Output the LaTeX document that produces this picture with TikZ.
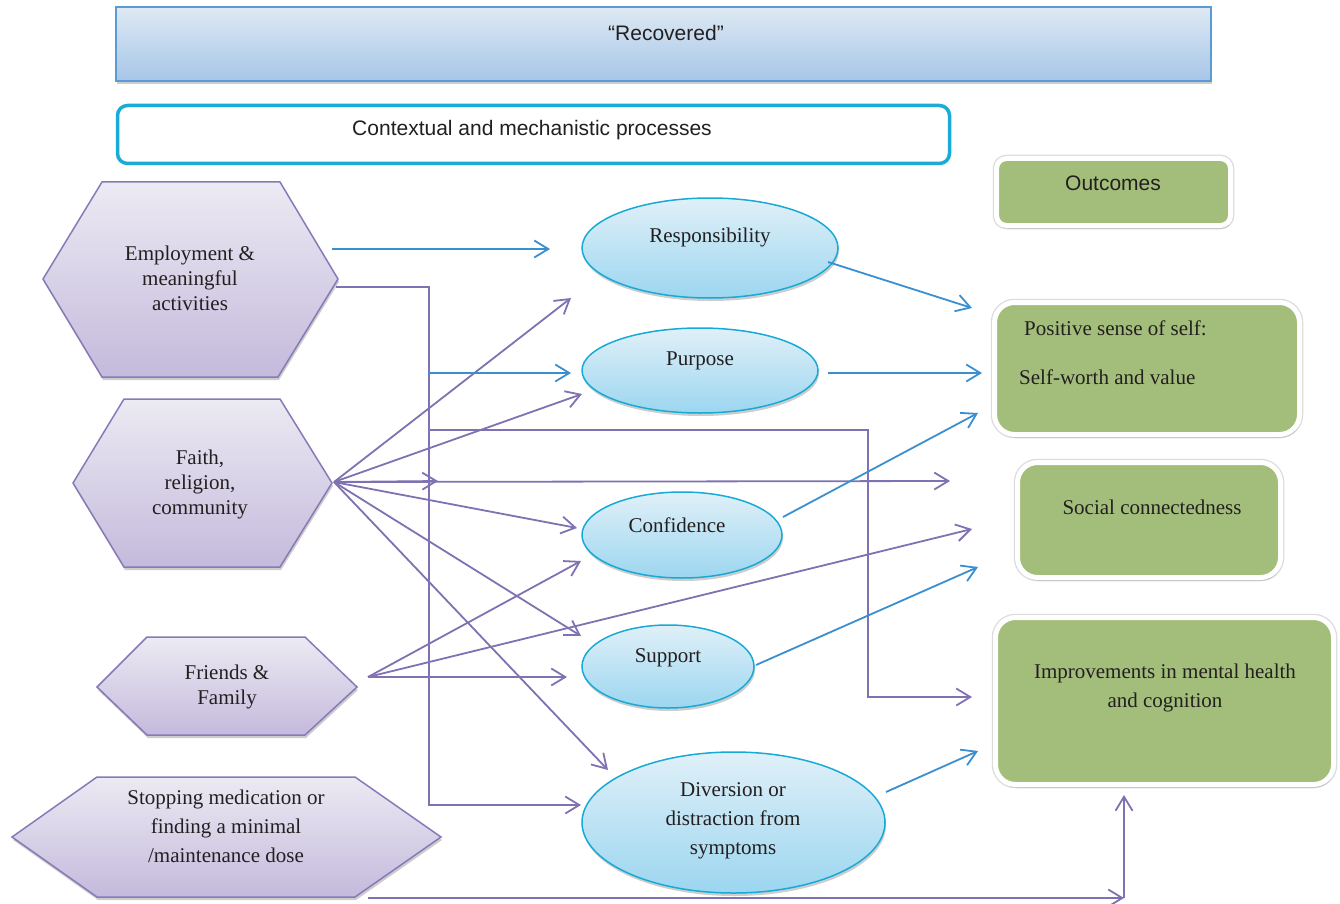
\documentclass[tikz,border=0pt]{standalone}
\usepackage{fontspec}
\setmainfont{Liberation Serif}
\setsansfont{Liberation Sans}
\usetikzlibrary{arrows.meta,shapes.geometric,shadows}
\definecolor{pline}{RGB}{128,114,178}
\definecolor{bline}{RGB}{58,143,208}
\definecolor{hextop}{RGB}{236,234,243}
\definecolor{hexbot}{RGB}{196,186,220}
\definecolor{hexborder}{RGB}{136,122,184}
\definecolor{elltop}{RGB}{224,240,248}
\definecolor{ellbot}{RGB}{156,214,240}
\definecolor{ellborder}{RGB}{24,170,214}
\definecolor{grn}{RGB}{163,190,123}
\definecolor{rectop}{RGB}{222,233,244}
\definecolor{recbot}{RGB}{166,198,231}
\definecolor{recborder}{RGB}{91,155,213}
\definecolor{ctxborder}{RGB}{26,172,214}
\definecolor{txt}{RGB}{35,31,32}
\begin{document}
\begin{tikzpicture}[x=1pt,y=-1pt,
  font=\fontsize{21}{25}\selectfont, text=txt,
  myshadow/.style={drop shadow={opacity=0.28, shadow xshift=1pt, shadow yshift=-3pt, fill=black!70}},
  hexa/.style={draw=hexborder, line width=1.5pt, top color=hextop, bottom color=hexbot, myshadow},
  ell/.style={ellipse, draw=ellborder, line width=1.5pt, top color=elltop, bottom color=ellbot, inner sep=0pt, myshadow},
  gbox/.style={rectangle, rounded corners=20pt, draw=white, line width=5pt, fill=grn, inner sep=0pt,
     preaction={draw=black!14, line width=7.5pt}, myshadow},
  lbl/.style={align=center, inner sep=0pt},
  lblw/.style={align=center, inner sep=0pt, font=\fontsize{21}{29}\selectfont},
  slbl/.style={align=center, inner sep=0pt, font=\sffamily\fontsize{21}{25}\selectfont},
  parrow/.style={draw=pline, line width=1.8pt, -{Straight Barb[length=14pt,width=17pt]}},
  barrow/.style={draw=bline, line width=1.8pt, -{Straight Barb[length=14pt,width=17pt]}}]
\useasboundingbox (0,0) rectangle (1340,904);
\fill[white] (0,0) rectangle (1340,904);

% top banners
\node[rectangle, draw=recborder, line width=1.5pt, top color=rectop, bottom color=recbot,
      minimum width=1095, minimum height=74, inner sep=0pt, myshadow] (recbox) at (663.5,44) {};
\node[slbl] (rec) at (666,33) {“Recovered”};
\node[rectangle, rounded corners=10pt, draw=ctxborder, line width=3.5pt, fill=white,
      minimum width=832, minimum height=58, inner sep=0pt] (ctxbox) at (533.5,134.5) {};
\node[slbl] (ctx) at (532,130) {Contextual and mechanistic processes};

% outcome boxes
\node[gbox, rounded corners=10pt, minimum width=234, minimum height=67] (outbox) at (1113.5,192) {};
\node[slbl] (out) at (1113,183) {Outcomes};
\node[gbox, minimum width=305, minimum height=132] (posbox) at (1147,368.5) {};
\node[lbl, anchor=west] (pos1) at (1024,328) {Positive sense of self:};
\node[lbl, anchor=west] (pos2) at (1019,377) {Self-worth and value};
\node[gbox, minimum width=263, minimum height=115] (socbox) at (1149,520) {};
\node[lbl] (soc) at (1152,507) {Social connectedness};
\node[gbox, minimum width=338, minimum height=167] (impbox) at (1164.5,701) {};
\node[lblw] (imp) at (1165,688) {Improvements in mental health\\and cognition};

% hexagons
\path[hexa] (43,279) -- (102,182) -- (280,182) -- (338,279) -- (278,377) -- (102,377) -- cycle;
\node[lbl] (emp) at (190,278) {Employment \&\\meaningful\\activities};
\path[hexa] (73,483) -- (124,399) -- (280,399) -- (332,483) -- (280,567) -- (124,567) -- cycle;
\node[lbl] (faith) at (200,484) {Faith,\\religion,\\community};
\path[hexa] (97,687) -- (147,637) -- (305,637) -- (357,687) -- (305,735) -- (147,735) -- cycle;
\node[lbl] (fri) at (227,687) {Friends \&\\Family};
\path[hexa] (12,837) -- (97,777) -- (355,777) -- (441,837) -- (355,897) -- (97,897) -- cycle;
\node[lblw] (stop) at (226,826) {Stopping medication or\\finding a minimal\\/maintenance dose};

% ellipses
\node[ell, minimum width=256, minimum height=100] (respell) at (710,248) {};
\node[lbl] (resp) at (710,237) {Responsibility};
\node[ell, minimum width=236, minimum height=85] (purpell) at (700,370.5) {};
\node[lbl] (purp) at (700,361) {Purpose};
\node[ell, minimum width=200, minimum height=86] (confell) at (682,535) {};
\node[lbl] (conf) at (677,525) {Confidence};
\node[ell, minimum width=172, minimum height=83] (suppell) at (668,666.5) {};
\node[lbl] (supp) at (668,658) {Support};
\node[ell, minimum width=303, minimum height=141] (divell) at (733.5,822.5) {};
\node[lblw] (div) at (733,821) {Diversion or\\distraction from\\symptoms};

% connector end points
\coordinate (empA) at (332,249);
\coordinate (empB) at (336,287);
\coordinate (faR) at (334,482);
\coordinate (frR) at (368,677);
\coordinate (stR) at (368,898);
\coordinate (respin) at (550,249);
\coordinate (respin2) at (571,298);
\coordinate (purpin) at (571,373);
\coordinate (purpin2) at (582,394);
\coordinate (confin) at (577,528);
\coordinate (confin2) at (581,561);
\coordinate (suppin) at (581,636);
\coordinate (suppin2) at (567,677);
\coordinate (divin) at (608,770);
\coordinate (divin2) at (581,805);
\coordinate (respout) at (828,262);
\coordinate (purpout) at (828,373);
\coordinate (confout) at (783,517);
\coordinate (suppout) at (756,665);
\coordinate (divout) at (886,792);
\coordinate (posin1) at (972,308);
\coordinate (posin2) at (982,373);
\coordinate (posin3) at (978,413);
\coordinate (socin1) at (950,481);
\coordinate (socin2) at (972,529);
\coordinate (socin3) at (978,567);
\coordinate (impin1) at (972,697);
\coordinate (impin2) at (978,751);
\coordinate (impin3) at (1124,795);
\coordinate (corner) at (1124,898);
\coordinate (midtip) at (438,481);
\coordinate (bstart) at (428,373);
\coordinate (pstart) at (428,430);

% purple connectors
\draw[parrow] (empB) -- (429,287) |- (divin2);
\draw[parrow] (pstart) -- (868,430) |- (impin1);
\draw[parrow] (faR) -- (respin2);
\draw[parrow] (faR) -- (purpin2);
\draw[parrow] (faR) -- (midtip);
\draw[parrow] (faR) -- (socin1);
\draw[parrow] (faR) -- (confin);
\draw[parrow] (faR) -- (suppin);
\draw[parrow] (faR) -- (divin);
\draw[parrow] (frR) -- (confin2);
\draw[parrow] (frR) -- (socin2);
\draw[parrow] (frR) -- (suppin2);
\draw[parrow] (stR) -- (corner);
\draw[parrow] (corner) -- (impin3);

% blue connectors
\draw[barrow] (empA) -- (respin);
\draw[barrow] (bstart) -- (purpin);
\draw[barrow] (respout) -- (posin1);
\draw[barrow] (purpout) -- (posin2);
\draw[barrow] (confout) -- (posin3);
\draw[barrow] (suppout) -- (socin3);
\draw[barrow] (divout) -- (impin2);
\end{tikzpicture}
\end{document}
